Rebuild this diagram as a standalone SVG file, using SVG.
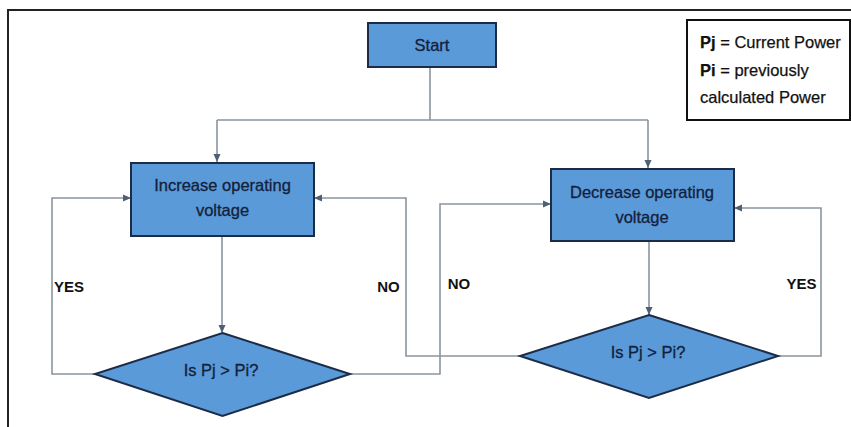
<svg xmlns="http://www.w3.org/2000/svg" width="851" height="427" viewBox="0 0 851 427">
<style>
.node{fill:#5a9ad9;stroke:#1c2c47;stroke-width:2}
.t{font-family:"Liberation Sans",Arial,sans-serif;font-size:16.5px;fill:#14213a;stroke:#14213a;stroke-width:0.3;text-anchor:middle}
.lbl{font-family:"Liberation Sans",Arial,sans-serif;font-weight:bold;font-size:15px;fill:#111;text-anchor:middle}
.leg{font-family:"Liberation Sans",Arial,sans-serif;font-size:16.5px;fill:#111;stroke:#111;stroke-width:0.25}
.c{fill:none;stroke:#8a949e;stroke-width:1.6}
</style>
<defs>
<marker id="ah" markerWidth="10" markerHeight="10" refX="9" refY="5" orient="auto" markerUnits="userSpaceOnUse">
<path d="M1,1.5 L9,5 L1,8.5 Z" fill="#4d6074"/>
</marker>
</defs>
<rect width="851" height="427" fill="#fff"/>
<path d="M8,427 V10 H851" fill="none" stroke="#222" stroke-width="2"/>
<g id="legend">
<rect x="687" y="20" width="163" height="100" fill="#fff" stroke="#111" stroke-width="2"/>
<text class="leg" x="700" y="48"><tspan font-weight="bold">Pj</tspan> = Current Power</text>
<text class="leg" x="700" y="75.5"><tspan font-weight="bold">Pi</tspan> = previously</text>
<text class="leg" x="700" y="103">calculated Power</text>
</g>
<g id="connectors">
<path class="c" d="M430,67 V120"/>
<path class="c" d="M217,120 H648"/>
<path class="c" d="M217,120 V162" marker-end="url(#ah)"/>
<path class="c" d="M648,120 V168" marker-end="url(#ah)"/>
<path class="c" d="M222,236 V333" marker-end="url(#ah)"/>
<path class="c" d="M649,241 V315" marker-end="url(#ah)"/>
<path class="c" d="M95,374 H52 V198 H131" marker-end="url(#ah)"/>
<path class="c" d="M350,374 H440 V204 H551" marker-end="url(#ah)"/>
<path class="c" d="M520,356 H406 V198 H314" marker-end="url(#ah)"/>
<path class="c" d="M778,356 H821 V208 H734" marker-end="url(#ah)"/>
<text class="lbl" x="69" y="291.5" font-size="14.5">YES</text>
<text class="lbl" x="388.5" y="291.5">NO</text>
<text class="lbl" x="459" y="288.5">NO</text>
<text class="lbl" x="801.5" y="288.5" font-size="14.5">YES</text>
</g>
<g id="start">
<rect class="node" x="368" y="23" width="128" height="44"/>
<text class="t" x="432" y="51" font-size="17">Start</text>
</g>
<g id="increase">
<rect class="node" x="131" y="163" width="183" height="73"/>
<text class="t" x="222.5" y="191">Increase operating</text>
<text class="t" x="222.5" y="216">voltage</text>
</g>
<g id="decrease">
<rect class="node" x="551" y="169" width="183" height="72"/>
<text class="t" x="642" y="197.5">Decrease operating</text>
<text class="t" x="642" y="223">voltage</text>
</g>
<g id="decision1">
<polygon class="node" points="222.5,333 350,374 222.5,416 95,374"/>
<text class="t" x="221" y="376">Is Pj &gt; Pi?</text>
</g>
<g id="decision2">
<polygon class="node" points="649,315 778,356 649,398 520,356"/>
<text class="t" x="648" y="358">Is Pj &gt; Pi?</text>
</g>
</svg>
